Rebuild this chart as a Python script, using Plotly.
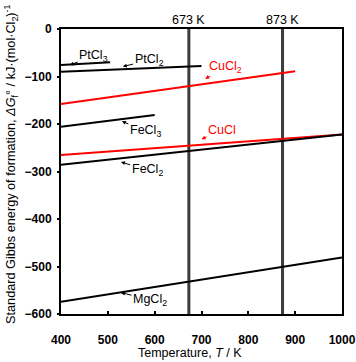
import plotly.graph_objects as go

# Data (T in K, ΔG in kJ/(mol Cl2))
series_names = ["PtCl3", "PtCl2", "CuCl2", "FeCl3", "CuCl", "FeCl2", "MgCl2"]
ptcl3_T = [400, 505]
ptcl3_G = [-76, -70]
ptcl2_T = [400, 700]
ptcl2_G = [-90, -78]
cucl2_T = [400, 900]
cucl2_G = [-158, -89]
fecl3_T = [400, 600]
fecl3_G = [-206, -181]
cucl_T = [400, 1000]
cucl_G = [-265, -222]
fecl2_T = [400, 1000]
fecl2_G = [-286, -222]
mgcl2_T = [400, 1000]
mgcl2_G = [-574, -481]
vlines_T = [673, 873]
vline_labels = ["673 K", "873 K"]
x_ticks = [400, 500, 600, 700, 800, 900, 1000]
y_ticks = [0, -100, -200, -300, -400, -500, -600]
x_title = "Temperature, <i>T</i> / K"
y_title = "Standard Gibbs energy of formation, <i>ΔG</i><sub>f</sub>° / kJ·(mol·Cl<sub>2</sub>)<sup>-1</sup>"

fig = go.Figure()

for t in vlines_T:
    fig.add_trace(go.Scatter(x=[t, t], y=[-600, 0], mode="lines",
                             line=dict(color="#3c3c3c", width=3),
                             showlegend=False, hoverinfo="skip"))

lines = [
    (ptcl3_T, ptcl3_G, "black"),
    (ptcl2_T, ptcl2_G, "black"),
    (cucl2_T, cucl2_G, "red"),
    (fecl3_T, fecl3_G, "black"),
    (cucl_T, cucl_G, "red"),
    (fecl2_T, fecl2_G, "black"),
    (mgcl2_T, mgcl2_G, "black"),
]
for (xs, ys, c), name in zip(lines, series_names):
    fig.add_trace(go.Scatter(x=xs, y=ys, mode="lines", name=name,
                             line=dict(color=c, width=2),
                             showlegend=False))

# labels: text position, arrow head position
labels = [
    ("PtCl<sub>3</sub>", 470, -56, 419, -76, "black"),
    ("PtCl<sub>2</sub>", 588, -66, 532, -79, "black"),
    ("CuCl<sub>2</sub>", 752, -79, 708, -105, "red"),
    ("FeCl<sub>3</sub>", 580, -215, 530, -194, "black"),
    ("CuCl", 744, -212, 700, -232, "red"),
    ("FeCl<sub>2</sub>", 584, -297, 528, -280, "black"),
    ("MgCl<sub>2</sub>", 590, -570, 528, -555, "black"),
]
for txt, tx, ty, hx, hy, c in labels:
    fig.add_annotation(x=hx, y=hy, ax=tx, ay=ty, xref="x", yref="y",
                       axref="x", ayref="y", text=txt, showarrow=True,
                       arrowhead=2, arrowsize=0.8, arrowwidth=1,
                       arrowcolor=c,
                       font=dict(family="Liberation Sans", size=12.5, color=c))

for t, lab in zip(vlines_T, vline_labels):
    fig.add_annotation(x=t, y=1.0, xref="x", yref="paper", text=lab,
                       showarrow=False, yanchor="bottom", yshift=0,
                       font=dict(family="Liberation Sans", size=12.5, color="black"))

# axis titles
fig.add_annotation(x=0.459, y=0, xref="paper", yref="paper", text=x_title,
                   showarrow=False, xanchor="center", yanchor="middle", yshift=-39,
                   font=dict(family="Liberation Sans", size=12.5, color="black"))
fig.add_annotation(x=0, y=0.523, xref="paper", yref="paper", text=y_title,
                   showarrow=False, xanchor="center", yanchor="middle", xshift=-50,
                   textangle=-90,
                   font=dict(family="Liberation Sans", size=12.7, color="black"))

fig.update_layout(
    width=356, height=362,
    margin=dict(l=61, r=14, t=29, b=48),
    paper_bgcolor="white", plot_bgcolor="white",
    font=dict(family="Liberation Sans", color="black"),
    xaxis=dict(range=[400, 1000], tickvals=x_ticks, ticks="inside",
               ticklen=3, tickwidth=2, tickcolor="black",
               showgrid=False, zeroline=False, automargin=False,
               ticklabelstandoff=14,
               showline=True, linecolor="black", linewidth=2, mirror=True,
               tickfont=dict(family="Liberation Sans", size=12, weight="bold")),
    yaxis=dict(range=[-600, 0], tickvals=y_ticks, ticks="outside",
               ticklen=2, tickwidth=2, tickcolor="black",
               showgrid=False, zeroline=False, automargin=False,
               ticklabelstandoff=3,
               showline=True, linecolor="black", linewidth=2, mirror=True,
               tickfont=dict(family="Liberation Sans", size=12, weight="bold")),
)

fig.write_html("out.html", config={"displayModeBar": False},
               post_script="document.body.style.margin='0';")
